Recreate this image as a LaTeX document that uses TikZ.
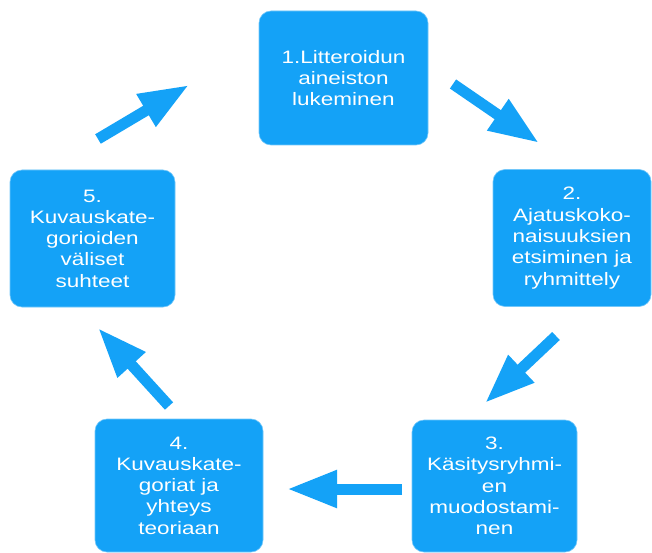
\documentclass[tikz,border=0pt]{standalone}
\usepackage{fontspec}
\setmainfont{Liberation Sans}[FakeStretch=1.25]
\usetikzlibrary{arrows.meta}
\definecolor{boxblue}{RGB}{20,162,247}
\begin{document}
\begin{tikzpicture}[x=1pt,y=-1pt,
  stepbox/.style={fill=boxblue, draw=boxblue!60, line width=0.6pt, rounded corners=12pt,
    text=white, align=center, inner sep=0pt,
    font=\fontsize{18}{21.3}\selectfont},
  bigarrow/.style={draw=boxblue, line width=11pt,
    -{Triangle[length=50pt,width=35pt,fill=boxblue]}}]
\useasboundingbox (0,0) rectangle (652,553);
\fill[white] (0,0) rectangle (652,553);
\node[stepbox, minimum width=169pt, minimum height=134pt] (b1) at (343.5,78)
  {1.Litteroidun\\aineiston\\lukeminen};
\node[stepbox, minimum width=158pt, minimum height=137pt] (b2) at (572,238)
  {2.\\Ajatuskoko-\\naisuuksien\\etsiminen ja\\ryhmittely};
\node[stepbox, minimum width=165pt, minimum height=132pt] (b3) at (494.5,486)
  {3.\\Käsitysryhmi-\\en\\muodostami-\\nen};
\node[stepbox, minimum width=168pt, minimum height=133pt] (b4) at (179,485.5)
  {4.\\Kuvauskate-\\goriat ja\\yhteys\\teoriaan};
\node[stepbox, minimum width=165pt, minimum height=137pt] (b5) at (92.5,238.5)
  {5.\\Kuvauskate-\\gorioiden\\väliset\\suhteet};
\coordinate (a1s) at (98,139);
\coordinate (a1e) at (189,85);
\coordinate (a2s) at (453,84);
\coordinate (a2e) at (539,143);
\coordinate (a3s) at (556,336);
\coordinate (a3e) at (485,403);
\coordinate (a4s) at (402,489);
\coordinate (a4e) at (287,489);
\coordinate (a5s) at (169,406);
\coordinate (a5e) at (98,328);
\draw[bigarrow] (a1s) -- (a1e);
\draw[bigarrow] (a2s) -- (a2e);
\draw[bigarrow] (a3s) -- (a3e);
\draw[bigarrow] (a4s) -- (a4e);
\draw[bigarrow] (a5s) -- (a5e);
\end{tikzpicture}
\end{document}
